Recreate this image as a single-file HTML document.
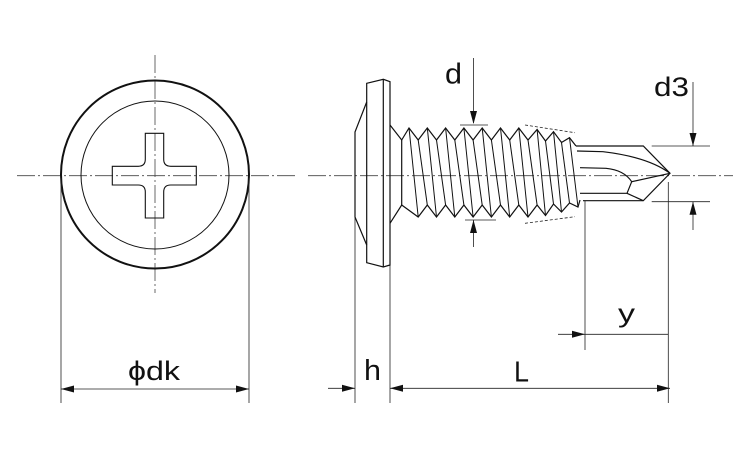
<!DOCTYPE html>
<html><head><meta charset="utf-8"><style>
html,body{margin:0;padding:0;background:#fff;}
svg{display:block;}
text{font-family:"Liberation Sans","DejaVu Sans",sans-serif;fill:#111;}
</style></head><body>
<svg width="750" height="450" viewBox="0 0 750 450" xmlns="http://www.w3.org/2000/svg">
<rect width="750" height="450" fill="#fff"/>
<!-- center lines -->
<g stroke="#444" stroke-width="0.8" fill="none" stroke-dasharray="18,3,2,3">
<line x1="17" y1="175.7" x2="298" y2="175.7"/>
<line x1="308" y1="175.7" x2="733" y2="175.7"/>
<line x1="155" y1="55" x2="155" y2="293"/>
</g>
<!-- head view -->
<circle cx="155" cy="174.5" r="94" fill="none" stroke="#111" stroke-width="2"/>
<circle cx="155" cy="175" r="74" fill="none" stroke="#111" stroke-width="1"/>
<path d="M145.3,133.3 L163.7,133.3 L163.7,159.3 Q163.7,166.3 170.7,166.3 L196.3,166.3 L196.3,185 L170.7,185 Q163.7,185 163.7,192 L163.7,218 L145.3,218 L145.3,192 Q145.3,185 138.3,185 L112.3,185 L112.3,166.3 L138.3,166.3 Q145.3,166.3 145.3,159.3 Z" fill="none" stroke="#111" stroke-width="1.1"/>

<!-- dimension/extension thin lines -->
<g stroke="#222" stroke-width="0.8" fill="none">
<line x1="61" y1="178" x2="61" y2="403"/>
<line x1="249" y1="178" x2="249" y2="403"/>
<line x1="61" y1="389" x2="249" y2="389"/>
<line x1="355" y1="217" x2="355" y2="403"/>
<line x1="390" y1="265" x2="390" y2="403"/>
<line x1="328" y1="388.3" x2="355" y2="388.3"/>
<line x1="390" y1="388.3" x2="670" y2="388.3"/>
<line x1="668.3" y1="182" x2="668.3" y2="403"/>
<line x1="585" y1="201" x2="585" y2="350"/>
<line x1="558" y1="334.3" x2="668.3" y2="334.3"/>
<line x1="473.5" y1="58" x2="473.5" y2="123"/>
<line x1="460" y1="125" x2="488" y2="125"/>
<line x1="465" y1="220" x2="496" y2="220"/>
<line x1="473.5" y1="220" x2="473.5" y2="247"/>
<line x1="693" y1="82" x2="693" y2="146"/>
<line x1="651.7" y1="146" x2="710" y2="146"/>
<line x1="651.7" y1="201.7" x2="710" y2="201.7"/>
<line x1="693" y1="201.7" x2="693" y2="230"/>
</g>
<!-- arrowheads -->
<g fill="#111">
<polygon points="61,389 74,385.5 74,392.5"/>
<polygon points="249,389 236,385.5 236,392.5"/>
<polygon points="355,388.3 342,384.8 342,391.8"/>
<polygon points="390,388.3 403,384.8 403,391.8"/>
<polygon points="670,388.3 657,384.8 657,391.8"/>
<polygon points="585,334.3 572,330.8 572,337.8"/>
<polygon points="473.5,124 470,111 477,111"/>
<polygon points="473.5,220 470,233 477,233"/>
<polygon points="693,146 689.5,133 696.5,133"/>
<polygon points="693,201.7 689.5,214.7 696.5,214.7"/>
</g>

<!-- side view: head -->
<g stroke="#111" stroke-width="1.2" fill="none" stroke-linejoin="miter">
<polygon points="366.7,83.3 383.3,79.3 390,81.7 390,265 383.3,267 366.7,262.7"/>
<line x1="383.3" y1="79.3" x2="383.3" y2="267"/>
<polyline points="366.7,102 355,132 355,217 366.7,245"/>
<!-- thread outline -->
<path d="M390,125 L401.7,140 L409,128 L418.2,140 L427.3,128 L436.5,140 L445.6,128 L454.8,140 L463.9,128 L473.1,140 L482.2,128 L491.4,140 L500.5,128 L509.7,140 L518.8,128 L528,140 L537.1,129.5 L545.5,141 L553.5,131.7 L561.5,142.5 L569.5,137.7 L576,146"/>
<path d="M390,223.3 L401.7,205 L418.2,217 L427.3,205 L436.5,217 L445.6,205 L454.8,217 L463.9,205 L473.1,217 L482.2,205 L491.4,217 L500.5,205 L509.7,217 L518.8,205 L528,217 L537.1,205 L545.5,215.5 L553.5,204 L561.5,212 L569.5,203 L578,207 L580,200"/>
<line x1="401.7" y1="140" x2="401.7" y2="205"/>
</g>
<g stroke="#111" stroke-width="1" fill="none">
<line x1="409" y1="128" x2="418.2" y2="217"/>
<line x1="427.3" y1="128" x2="436.5" y2="217"/>
<line x1="445.6" y1="128" x2="454.8" y2="217"/>
<line x1="463.9" y1="128" x2="473.1" y2="217"/>
<line x1="482.2" y1="128" x2="491.4" y2="217"/>
<line x1="500.5" y1="128" x2="509.7" y2="217"/>
<line x1="518.8" y1="128" x2="528" y2="217"/>
<line x1="537.1" y1="129.5" x2="545.5" y2="215.5"/>
<line x1="553.5" y1="131.7" x2="561.5" y2="212"/>
<line x1="569.5" y1="137.7" x2="578" y2="207"/>
<line x1="418.2" y1="140" x2="427.3" y2="205"/>
<line x1="436.5" y1="140" x2="445.6" y2="205"/>
<line x1="454.8" y1="140" x2="463.9" y2="205"/>
<line x1="473.1" y1="140" x2="482.2" y2="205"/>
<line x1="491.4" y1="140" x2="500.5" y2="205"/>
<line x1="509.7" y1="140" x2="518.8" y2="205"/>
<line x1="528" y1="140" x2="537.1" y2="205"/>
<line x1="545.5" y1="141" x2="553.5" y2="204"/>
<line x1="561.5" y1="142.5" x2="569.5" y2="203"/>
</g>
<!-- dotted taper lines -->
<g stroke="#222" stroke-width="0.8" stroke-dasharray="3,2" fill="none">
<line x1="525" y1="125" x2="575" y2="132.7"/>
<line x1="525" y1="223.3" x2="575" y2="216.7"/>
</g>
<!-- drill point -->
<g stroke="#111" stroke-width="1.2" fill="none" stroke-linejoin="miter">
<path d="M576,146 L643.3,146 L670,173.3 L643.3,200.7 L583,200.7"/>
<path d="M577,151 L603,151.7 Q648,157 670,173.3"/>
<path d="M580,167.7 L606,168.3 Q624,170 631.7,181.7 L670,173.3"/>
<path d="M631.7,181.7 L627,193.3 L580,193.3"/>
<line x1="627" y1="193.3" x2="643.3" y2="200.7"/>
</g>

<!-- labels -->
<text x="445" y="83.3" font-size="29" textLength="17" lengthAdjust="spacingAndGlyphs">d</text>
<text x="654" y="96" font-size="27" textLength="35" lengthAdjust="spacingAndGlyphs">d3</text>
<text x="128" y="380" font-size="27" textLength="52" lengthAdjust="spacingAndGlyphs">ϕdk</text>
<text x="364" y="380" font-size="29" textLength="17" lengthAdjust="spacingAndGlyphs">h</text>
<text x="514" y="381.5" font-size="29" textLength="15" lengthAdjust="spacingAndGlyphs">L</text>
<text x="618" y="322" font-size="26" textLength="17" lengthAdjust="spacingAndGlyphs">y</text>
</svg>
</body></html>
